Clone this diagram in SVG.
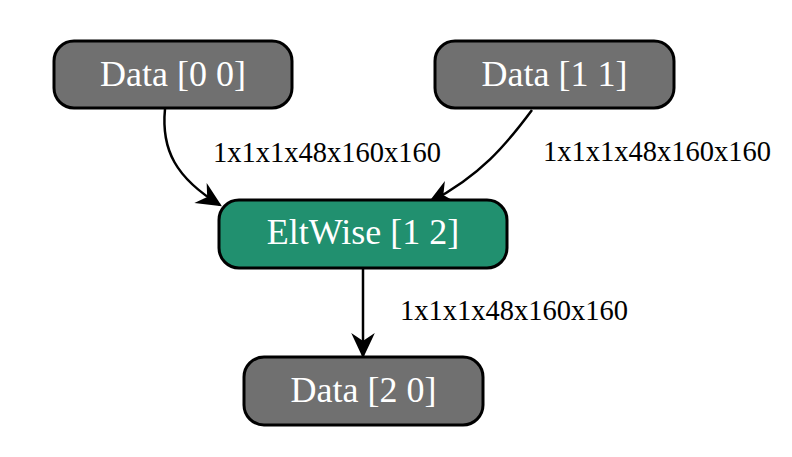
<svg xmlns="http://www.w3.org/2000/svg" width="792" height="457" viewBox="0 0 792 457">
<style>
.node rect{stroke:#000;stroke-width:3}
.gray rect{fill:#707070}
.green rect{fill:#21906f}
.node text{font-family:"Liberation Serif","Times New Roman",serif;font-size:36px;fill:#fff;text-anchor:middle}
.edge path{fill:none;stroke:#000;stroke-width:2.5}
.lbl{font-family:"Liberation Serif","Times New Roman",serif;font-size:28.5px;fill:#000}
</style>
<defs>
<marker id="ah" markerUnits="userSpaceOnUse" markerWidth="24" markerHeight="24" refX="16" refY="0" viewBox="-1 -9 19 18" orient="auto" overflow="visible">
<path d="M0,-7.5 L16,0 L0,7.5 L5,0 Z" fill="#000" stroke="#000" stroke-width="1.5" stroke-linejoin="miter"/>
</marker>
</defs>
<rect width="792" height="457" fill="#fff"/>
<g id="edges" class="edge">
<path d="M165,109 C161,150 176,178 220,205" marker-end="url(#ah)"/>
<path d="M532,110 C506,145 480,176 430,202" marker-end="url(#ah)"/>
<path d="M363,269 L363,356" marker-end="url(#ah)"/>
<text class="lbl" x="213" y="162">1x1x1x48x160x160</text>
<text class="lbl" x="543" y="161">1x1x1x48x160x160</text>
<text class="lbl" x="400" y="320">1x1x1x48x160x160</text>
</g>
<g id="n00" class="node gray">
<rect x="54" y="41" width="238" height="67" rx="20"/>
<text x="173" y="86">Data [0 0]</text>
</g>
<g id="n11" class="node gray">
<rect x="435" y="41" width="239" height="67" rx="20"/>
<text x="554.5" y="86">Data [1 1]</text>
</g>
<g id="n12" class="node green">
<rect x="219" y="200" width="288" height="68" rx="20"/>
<text x="363" y="244">EltWise [1 2]</text>
</g>
<g id="n20" class="node gray">
<rect x="244" y="357" width="239" height="68" rx="20"/>
<text x="363.5" y="402">Data [2 0]</text>
</g>
</svg>
